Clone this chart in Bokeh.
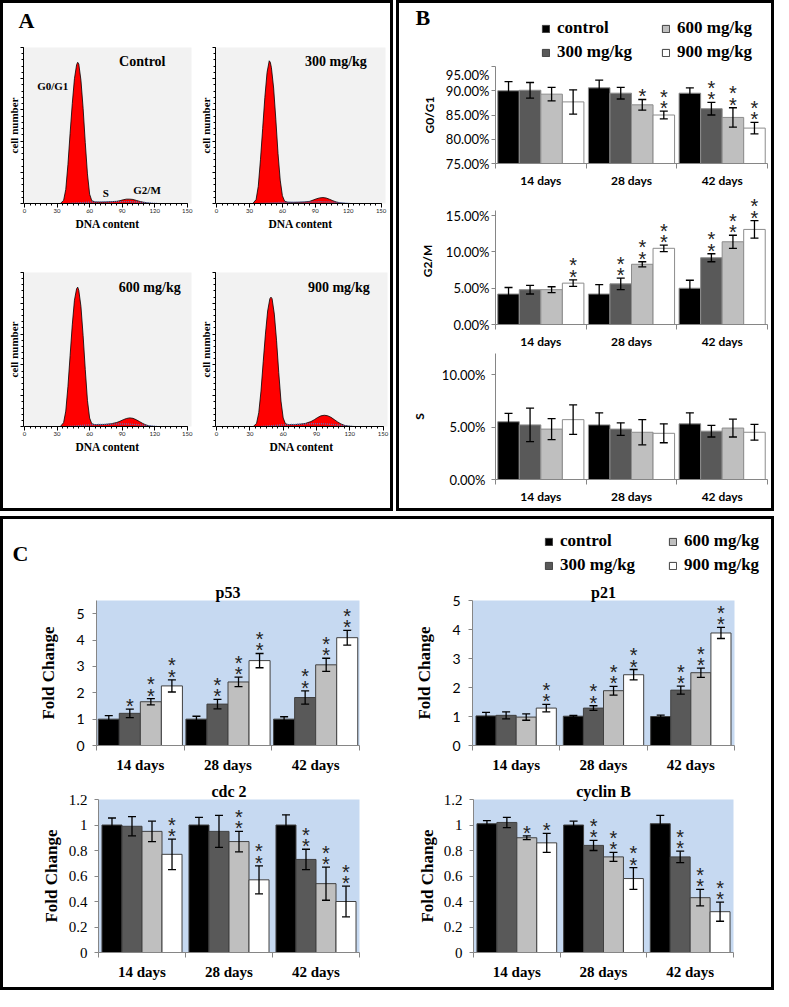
import numpy as np
from bokeh.plotting import figure
from bokeh.models import (ColumnDataSource, FixedTicker, Whisker, TeeHead, Label,
                          Legend, LegendItem, Range1d, PrintfTickFormatter, Spacer)
from bokeh.layouts import row, column
from bokeh.embed import file_html
from bokeh.resources import INLINE
from bokeh.core.properties import value

SERIF = "Liberation Serif"
SANS = "Lato"
STARF = "Liberation Sans"

# ---------------- data ----------------
days = ["14 days", "28 days", "42 days"]
doses = ["control", "300 mg/kg", "600 mg/kg", "900 mg/kg"]
dose_fill = ["#000000", "#595959", "#bfbfbf", "#ffffff"]

# Panel A: DNA histograms (relative cell number)
hist_dna = [0, 30, 33, 36, 38, 40, 42, 44, 46, 48, 49, 50, 52, 54, 56, 58, 60, 62, 65, 70,
            75, 80, 85, 88, 91, 94, 97, 100, 103, 106, 109, 112, 115, 118, 121, 125, 150]
hist_control = [0, 0, 0, 20, 90, 250, 450, 640, 800, 890, 905, 895, 790, 610, 390, 190, 60, 18, 10, 9,
                10, 12, 14, 18, 24, 28, 28, 26, 20, 14, 9, 5, 2, 0, 0, 0, 0]
hist_300 = [0, 0, 0, 25, 110, 280, 480, 680, 840, 915, 905, 870, 740, 540, 320, 150, 50, 15, 8, 7,
            8, 10, 14, 22, 30, 36, 38, 35, 27, 18, 10, 5, 2, 0, 0, 0, 0]
hist_600 = [0, 0, 0, 25, 100, 260, 460, 660, 820, 895, 905, 885, 780, 590, 370, 170, 55, 18, 12, 12,
            14, 18, 26, 34, 44, 52, 56, 53, 44, 32, 20, 10, 4, 1, 0, 0, 0]
hist_900 = [0, 0, 0, 20, 90, 230, 420, 600, 750, 830, 840, 830, 730, 560, 350, 165, 55, 18, 12, 12,
            15, 20, 32, 44, 58, 69, 73, 70, 60, 45, 30, 17, 8, 3, 1, 0, 0]
s_phase_dna = [40, 50, 58, 65, 75, 85, 95, 105, 115, 122]
s_control = [0, 4, 8, 10, 11, 12, 12, 9, 4, 0]
s_300 = [0, 3, 7, 8, 9, 10, 11, 9, 4, 0]
s_600 = [0, 5, 10, 12, 14, 16, 16, 12, 5, 0]
s_900 = [0, 5, 10, 12, 15, 18, 18, 13, 6, 0]

# Panel B: phase distribution (%), rows = doses, columns = days
g0g1_mean = [[90.0, 90.6, 89.5], [90.1, 89.5, 86.3], [89.3, 87.1, 84.5], [87.7, 85.0, 82.3]]
g0g1_err = [[1.9, 1.6, 1.1], [1.6, 1.2, 1.3], [1.4, 1.1, 2.0], [2.5, 0.8, 1.2]]
g0g1_sig = [[0, 0, 0], [0, 0, 2], [0, 1, 2], [0, 2, 2]]
g2m_mean = [[4.2, 4.2, 5.0], [4.8, 5.6, 9.2], [4.8, 8.3, 11.4], [5.7, 10.5, 13.1]]
g2m_err = [[0.9, 1.3, 1.1], [0.6, 0.8, 0.55], [0.4, 0.35, 0.9], [0.45, 0.45, 1.2]]
g2m_sig = [[0, 0, 0], [0, 2, 2], [0, 2, 2], [2, 2, 2]]
s_mean = [[5.5, 5.2, 5.3], [5.2, 4.8, 4.6], [4.8, 4.5, 4.9], [5.7, 4.4, 4.5]]
s_err = [[0.8, 1.15, 1.05], [1.6, 0.6, 0.55], [1.0, 1.2, 0.85], [1.4, 0.9, 0.75]]
s_sig = [[0, 0, 0], [0, 0, 0], [0, 0, 0], [0, 0, 0]]

# Panel C: fold change
p53_mean = [[1.0, 1.0, 1.0], [1.22, 1.57, 1.82], [1.66, 2.41, 3.06], [2.26, 3.22, 4.09]]
p53_err = [[0.13, 0.11, 0.09], [0.16, 0.18, 0.25], [0.12, 0.18, 0.25], [0.23, 0.27, 0.28]]
p53_sig = [[0, 0, 0], [1, 2, 2], [2, 2, 2], [2, 2, 2]]
p21_mean = [[1.02, 1.01, 1.0], [1.04, 1.29, 1.91], [0.98, 1.89, 2.51], [1.29, 2.44, 3.88]]
p21_err = [[0.12, 0.03, 0.05], [0.12, 0.08, 0.14], [0.11, 0.15, 0.16], [0.13, 0.18, 0.19]]
p21_sig = [[0, 0, 0], [0, 2, 2], [0, 2, 2], [2, 2, 2]]
cdc2_mean = [[1.0, 1.0, 1.0], [0.99, 0.95, 0.73], [0.95, 0.87, 0.54], [0.77, 0.57, 0.40]]
cdc2_err = [[0.055, 0.06, 0.08], [0.075, 0.125, 0.08], [0.08, 0.08, 0.13], [0.12, 0.11, 0.12]]
cdc2_sig = [[0, 0, 0], [0, 0, 2], [0, 2, 2], [2, 2, 2]]
cycb_mean = [[1.01, 1.0, 1.01], [1.02, 0.84, 0.75], [0.90, 0.75, 0.43], [0.86, 0.58, 0.32]]
cycb_err = [[0.025, 0.03, 0.065], [0.04, 0.04, 0.045], [0.015, 0.035, 0.065], [0.075, 0.085, 0.075]]
cycb_sig = [[0, 0, 0], [0, 2, 2], [1, 2, 2], [1, 2, 2]]


# ---------------- helpers ----------------
def base_fig(fw, fh, ml, mr, mt, mb, xr, yr, bg, title=None):
    p = figure(frame_width=fw, frame_height=fh, min_border_left=ml, min_border_right=mr,
               min_border_top=mt, min_border_bottom=mb, x_range=Range1d(*xr), y_range=Range1d(*yr),
               output_backend="svg", toolbar_location=None, background_fill_color=bg,
               border_fill_color="white", outline_line_color=None, title=title)
    p.xgrid.visible = False
    p.ygrid.visible = False
    return p


def header_fig(w, h):
    p = figure(width=w, height=h, x_range=Range1d(0, w), y_range=Range1d(0, h),
               x_axis_location=None, y_axis_location=None, min_border=0,
               output_backend="svg", toolbar_location=None, outline_line_color=None,
               border_fill_color="white", background_fill_color="white", title=None)
    p.xgrid.visible = False
    p.ygrid.visible = False
    return p


def style_axis_label(ax, font, size):
    ax.axis_label_text_font = font
    ax.axis_label_text_font_style = "bold"
    ax.axis_label_text_font_size = size
    ax.axis_label_text_color = "black"


def hist_fig(counts, s_counts, name, name_x, name_y, fw, fh, ml, mr, mt, mb, phases=False):
    p = base_fig(fw, fh, ml, mr, mt, mb, (-1, 154), (0, 1000), "#f2f2f2")
    src = ColumnDataSource(dict(x=hist_dna, y=counts))
    p.varea(x="x", y1=0, y2="y", source=src, fill_color="#ff0000")
    p.line(x="x", y="y", source=src, line_color="black", line_width=0.8)
    p.line(x=s_phase_dna, y=s_counts, line_color="#5f6fb8", line_dash="1 1", line_width=1.4)
    xa = p.xaxis[0]
    xa.bounds = (0, 150)
    xa.ticker = FixedTicker(ticks=[0, 30, 60, 90, 120, 150], minor_ticks=list(range(0, 151, 5)))
    xa.major_tick_out = 4
    xa.major_tick_in = 0
    xa.minor_tick_out = 2
    xa.minor_tick_in = 0
    xa.major_label_standoff = 1
    xa.major_label_text_font = SANS
    xa.major_label_text_font_size = "6px"
    xa.major_label_text_color = "#222222"
    xa.axis_label = "DNA content"
    style_axis_label(xa, SERIF, "11.5px")
    xa.axis_label_standoff = 2
    ya = p.yaxis[0]
    ya.bounds = (0, 1000)
    ya.ticker = FixedTicker(ticks=[0, 200, 400, 600, 800, 1000], minor_ticks=list(range(0, 1001, 40)))
    ya.major_label_overrides = {t: "" for t in [0, 200, 400, 600, 800, 1000]}
    ya.major_tick_out = 3
    ya.major_tick_in = 0
    ya.minor_tick_out = 2
    ya.minor_tick_in = 0
    ya.major_label_standoff = 0
    ya.axis_label = "cell number"
    style_axis_label(ya, SERIF, "11px")
    ya.axis_label_standoff = 1
    p.add_layout(Label(x=name_x, y=name_y, text=name, text_align="right", text_baseline="middle",
                       text_font=SERIF, text_font_style="bold", text_font_size="14px",
                       text_color="black"))
    if phases:
        for t, x, y in [("G0/G1", 26, 755), ("S", 75, 69), ("G2/M", 113, 88)]:
            p.add_layout(Label(x=x, y=y, text=t, text_align="center", text_baseline="middle",
                               text_font=SERIF, text_font_style="bold", text_font_size="11px",
                               text_color="black"))
    return p


def bar_fig(mean, err, sig, yr, yticks, fw, fh, ml, mr, mt, mb, bg, group, outline,
            tick_font, tick_size, tick_fmt=None, overrides=None, ylabel="",
            ylabel_font=SANS, ylabel_size="12px", ylabel_standoff=8, tick_standoff=3,
            cat_font=SANS, cat_size="12px", cat_standoff=4, title=None, ybounds="auto"):
    p = base_fig(fw, fh, ml, mr, mt, mb, (0, 3), yr, bg, title=title)
    bw = group / 4.0
    pos = np.arange(3) + 0.5
    st1 = dict(x=[], y=[])
    st2 = dict(x=[], y=[])
    for i in range(4):
        xs = pos + (i - 1.5) * bw
        up = np.add(mean[i], err[i])
        lo = np.subtract(mean[i], err[i])
        src = ColumnDataSource(dict(x=xs, top=mean[i], upper=up, lower=lo))
        p.vbar(x="x", top="top", bottom=yr[0], width=bw, source=src,
               fill_color=dose_fill[i], line_color=outline, line_width=1)
        w = Whisker(base="x", upper="upper", lower="lower", source=src, line_color="black",
                    line_width=1.3, level="annotation",
                    upper_head=TeeHead(size=8, line_color="black", line_width=1.3),
                    lower_head=TeeHead(size=8, line_color="black", line_width=1.3))
        p.add_layout(w)
        for j in range(3):
            if sig[i][j] >= 1:
                st1["x"].append(xs[j]); st1["y"].append(up[j])
            if sig[i][j] >= 2:
                st2["x"].append(xs[j]); st2["y"].append(up[j])
    for st, off in [(st1, -3), (st2, -14.5)]:
        p.text(x="x", y="y", text=value("*"), source=ColumnDataSource(st), y_offset=off,
               text_align="center", text_baseline="middle", text_font=value(STARF),
               text_font_size="20px", text_color="#222222")
    xa = p.xaxis[0]
    xa.ticker = FixedTicker(ticks=[0.5, 1.5, 2.5], minor_ticks=[0, 1, 2, 3])
    xa.major_label_overrides = {0.5: days[0], 1.5: days[1], 2.5: days[2]}
    xa.major_tick_line_color = None
    xa.major_tick_out = 0
    xa.major_tick_in = 0
    xa.minor_tick_out = 5
    xa.minor_tick_in = 0
    xa.minor_tick_line_color = "#868686"
    xa.axis_line_color = "#868686"
    xa.major_label_standoff = cat_standoff
    xa.major_label_text_font = cat_font
    xa.major_label_text_font_style = "bold"
    xa.major_label_text_font_size = cat_size
    xa.major_label_text_color = "black"
    ya = p.yaxis[0]
    ya.bounds = ybounds
    ya.ticker = FixedTicker(ticks=yticks)
    if tick_fmt is not None:
        ya.formatter = tick_fmt
    if overrides is not None:
        ya.major_label_overrides = overrides
    ya.axis_line_color = "#868686"
    ya.major_tick_line_color = "#868686"
    ya.major_tick_out = 4
    ya.major_tick_in = 0
    ya.minor_tick_line_color = None
    ya.major_label_standoff = tick_standoff
    ya.major_label_text_font = tick_font
    ya.major_label_text_font_size = tick_size
    ya.major_label_text_color = "black"
    ya.axis_label = ylabel
    style_axis_label(ya, ylabel_font, ylabel_size)
    ya.axis_label_standoff = ylabel_standoff
    if title:
        p.title.align = "center"
        p.title.text_font = SERIF
        p.title.text_font_style = "bold"
        p.title.text_font_size = "16px"
        p.title.text_color = "black"
        p.title.standoff = 0
    return p


def add_legend(p, x, y, lw):
    items = []
    for d, c in zip(doses, dose_fill):
        # swatch carriers kept outside the visible range; only their style is used by the legend
        r = p.vbar(x=[-100], top=[-100], bottom=[-101], width=1, fill_color=c,
                   line_color="#404040", line_width=1)
        items.append(LegendItem(label=d, renderers=[r]))
    lg = Legend(items=items, location=(x, y), orientation="vertical", nrows=2,
                glyph_width=9, glyph_height=9, label_text_font=SERIF,
                label_text_font_style="bold", label_text_font_size="17px",
                label_text_color="black",
                label_standoff=7, spacing=4, padding=0, margin=0, border_line_color=None,
                background_fill_alpha=0, label_width=lw, label_height=20)
    p.add_layout(lg, "center")


def panel_label(p, text, x, y):
    p.add_layout(Label(x=x, y=y, x_units="screen", y_units="screen", text=text,
                       text_align="left", text_baseline="middle", text_font=SERIF,
                       text_font_style="bold", text_font_size="22px", text_color="black"))


# ---------------- Panel A ----------------
headA = header_fig(386, 44)
panel_label(headA, "A", 15, 27)
h1 = hist_fig(hist_control, s_control, "Control", 130, 912, 168, 156, 20, 5, 0, 52, phases=True)
h2 = hist_fig(hist_300, s_300, "300 mg/kg", 137, 912, 170, 156, 18, 5, 0, 52)
h3 = hist_fig(hist_600, s_600, "600 mg/kg", 144, 904, 168, 154, 20, 5, 17, 82)
h4 = hist_fig(hist_900, s_900, "900 mg/kg", 138, 904, 172, 154, 18, 3, 17, 82)

# ---------------- Panel B ----------------
headB = header_fig(372, 63)
panel_label(headB, "B", 16, 49)
add_legend(headB, 142, 4, 100)
b1 = bar_fig(g0g1_mean, g0g1_err, g0g1_sig, (75, 95), [75, 80, 85, 90, 95],
             272, 97, 96, 4, 0, 27, "white", 0.95, "#8c8c8c", SANS, "13px",
             tick_fmt=PrintfTickFormatter(format="%.2f%%"), ylabel="G0/G1",
             ylabel_standoff=6, tick_standoff=2)
b2 = bar_fig(g2m_mean, g2m_err, g2m_sig, (0, 17.5), [0, 5, 10, 15],
             272, 127, 96, 4, 7, 27, "white", 0.95, "#8c8c8c", SANS, "13px",
             tick_fmt=PrintfTickFormatter(format="%.2f%%"), ylabel="G2/M",
             ylabel_standoff=8, tick_standoff=2, ybounds=(0, 15.7))
b3 = bar_fig(s_mean, s_err, s_sig, (0, 12), [0, 5, 10],
             272, 126, 96, 4, 2, 29, "white", 0.95, "#8c8c8c", SANS, "13px",
             tick_fmt=PrintfTickFormatter(format="%.2f%%"), ylabel="S",
             ylabel_standoff=12, tick_standoff=6)

# ---------------- Panel C ----------------
BLUE = "#c6d9f1"
dec_over = {0: "0", 1: "1"}
headC = header_fig(767, 61)
panel_label(headC, "C", 9, 27)
add_legend(headC, 541, 5, 104)
c1 = bar_fig(p53_mean, p53_err, p53_sig, (0, 5.5), [0, 1, 2, 3, 4, 5],
             263, 145, 93, 53, 20, 32, BLUE, 0.96, "#404040", SANS, "14px",
             ylabel="Fold Change", ylabel_font=SERIF, ylabel_size="17px", ylabel_standoff=15,
             tick_standoff=8, cat_font=SERIF, cat_size="15px", cat_standoff=6, title="p53")
c2 = bar_fig(p21_mean, p21_err, p21_sig, (0, 5), [0, 1, 2, 3, 4, 5],
             262, 145, 59, 37, 20, 32, BLUE, 0.92, "#404040", SANS, "14px",
             ylabel="Fold Change", ylabel_font=SERIF, ylabel_size="17px", ylabel_standoff=15,
             tick_standoff=8, cat_font=SERIF, cat_size="15px", cat_standoff=6, title="p21")
c3 = bar_fig(cdc2_mean, cdc2_err, cdc2_sig, (0, 1.2), [0, 0.2, 0.4, 0.6, 0.8, 1.0, 1.2],
             261, 153, 95, 53, 22, 35, BLUE, 0.92, "#404040", SERIF, "15px",
             overrides=dec_over, ylabel="Fold Change", ylabel_font=SERIF, ylabel_size="17px",
             ylabel_standoff=5, tick_standoff=7, cat_font=SERIF, cat_size="15px",
             cat_standoff=6, title="cdc 2")
c4 = bar_fig(cycb_mean, cycb_err, cycb_sig, (0, 1.2), [0, 0.2, 0.4, 0.6, 0.8, 1.0, 1.2],
             260, 153, 61, 37, 22, 35, BLUE, 0.92, "#404040", SERIF, "15px",
             overrides=dec_over, ylabel="Fold Change", ylabel_font=SERIF, ylabel_size="17px",
             ylabel_standoff=4, tick_standoff=7, cat_font=SERIF, cat_size="15px",
             cat_standoff=6, title="cyclin B")

# ---------------- layout ----------------
BORDER = {"border": "3px solid black", "box-sizing": "content-box"}
panelA = column(row(headA), row(h1, h2), row(h3, h4), styles=BORDER)
panelB = column(row(headB), row(b1), row(b2), row(b3), styles=BORDER)
panelC = column(row(headC), row(c1, c2), row(c3, c4), styles=BORDER)
top = row(panelA, Spacer(width=3, height=10), panelB)
page = column(top, Spacer(width=10, height=5), panelC)

open("out.html", "w").write(file_html(page, INLINE))
